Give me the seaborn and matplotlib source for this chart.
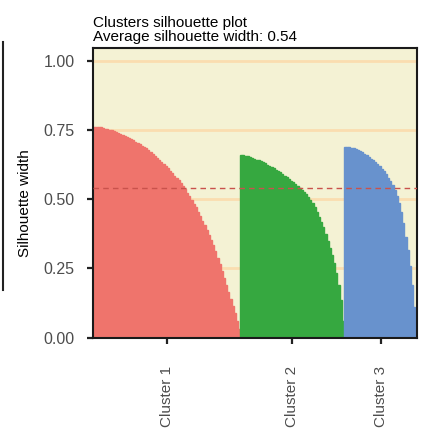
import numpy as np
import pandas as pd
import seaborn as sns
import matplotlib.pyplot as plt
from matplotlib.lines import Line2D

sil_c1 = [.762, .761, .760, .759, .757, .755, .753, .751, .748, .745,
          .742, .739, .736, .732, .729, .725, .721, .717, .712, .708,
          .703, .698, .693, .688, .683, .677, .671, .664, .657, .650,
          .642, .635, .627, .619, .611, .603, .594, .585, .577, .568,
          .558, .547, .536, .524, .511, .498, .484, .470, .455, .439,
          .423, .406, .389, .371, .353, .335, .312, .289, .265, .240,
          .215, .190, .165, .140, .115, .090, .062, .030]
sil_c2 = [.659, .658, .657, .655, .652, .649, .646, .643, .640, .637,
          .633, .629, .625, .621, .617, .612, .607, .602, .597, .591,
          .585, .579, .573, .567, .562, .556, .549, .541, .534, .526,
          .518, .508, .497, .485, .471, .455, .437, .418, .398, .375,
          .350, .325, .298, .268, .232, .190, .135, .060]
sil_c3 = [.690, .689, .688, .686, .684, .680, .677, .674, .670, .664,
          .658, .652, .646, .640, .634, .627, .619, .610, .600, .590,
          .578, .565, .550, .532, .510, .485, .455, .415, .365, .315,
          .260, .190, .110, .030]

cluster_names = ["Cluster 1", "Cluster 2", "Cluster 3"]
cluster_colors = ["#EF746C", "#36A840", "#6892CD"]
avg_width = 0.54

groups = [sil_c1, sil_c2, sil_c3]
sil = np.concatenate(groups)
labels = np.concatenate([[n] * len(g) for n, g in zip(cluster_names, groups)])
df = pd.DataFrame({"obs": np.arange(len(sil)), "sil_width": sil, "cluster": labels})

plt.rcParams["font.family"] = ["Liberation Sans", "DejaVu Sans"]

fig = plt.figure(figsize=(4.25, 4.28), dpi=100)
ax = fig.add_axes([0.2195, 0.211, 0.7624, 0.677])
ax.set_facecolor("#F4F2D4")

sns.barplot(data=df, x="obs", y="sil_width", hue="cluster", palette=cluster_colors,
            dodge=False, width=1, saturation=1, linewidth=0, legend=False, ax=ax)
for p in ax.patches:
    p.set_edgecolor(p.get_facecolor())
    p.set_linewidth(1.0)

ax.axhline(avg_width, color="#C9524C", lw=1, ls=(0, (4, 3)), zorder=3)

ax.set_ylim(0, 1.046)
ax.set_xlim(-0.5, len(sil) - 0.5)
ax.set_yticks([0, 0.25, 0.5, 0.75, 1.0])
ax.set_yticklabels(["0.00", "0.25", "0.50", "0.75", "1.00"])
for y in [0.25, 0.5, 0.75, 1.0]:
    ax.axhline(y, color="#FADDB0", lw=2, zorder=0.5)

sizes = np.array([len(g) for g in groups])
ends = np.cumsum(sizes) - 0.5
starts = ends - sizes
ax.set_xticks((starts + ends) / 2)
ax.set_xticklabels(cluster_names, rotation=90)

ax.tick_params(axis="both", colors="#222222", labelcolor="#4D4D4D", labelsize=11.5,
               length=4.5, width=1.6)
ax.tick_params(axis="y", pad=9)
ax.tick_params(axis="x", pad=16, labelsize=11)
for s in ax.spines.values():
    s.set_color("#1A1A1A")
    s.set_linewidth(1.5)
ax.set_xlabel("")
ax.set_ylabel("Silhouette width", fontsize=11)
ax.yaxis.set_label_coords(-0.188, 0.466)
ax.set_title("Clusters silhouette plot\nAverage silhouette width: %.2f" % avg_width,
             loc="left", fontsize=11, pad=5, linespacing=1.0)

fig.add_artist(Line2D([3 / 425, 3 / 425], [1 - 42 / 428, 1 - 290 / 428],
                      transform=fig.transFigure, color="#222222", lw=1.5))

fig.savefig("out.png", dpi=100)
